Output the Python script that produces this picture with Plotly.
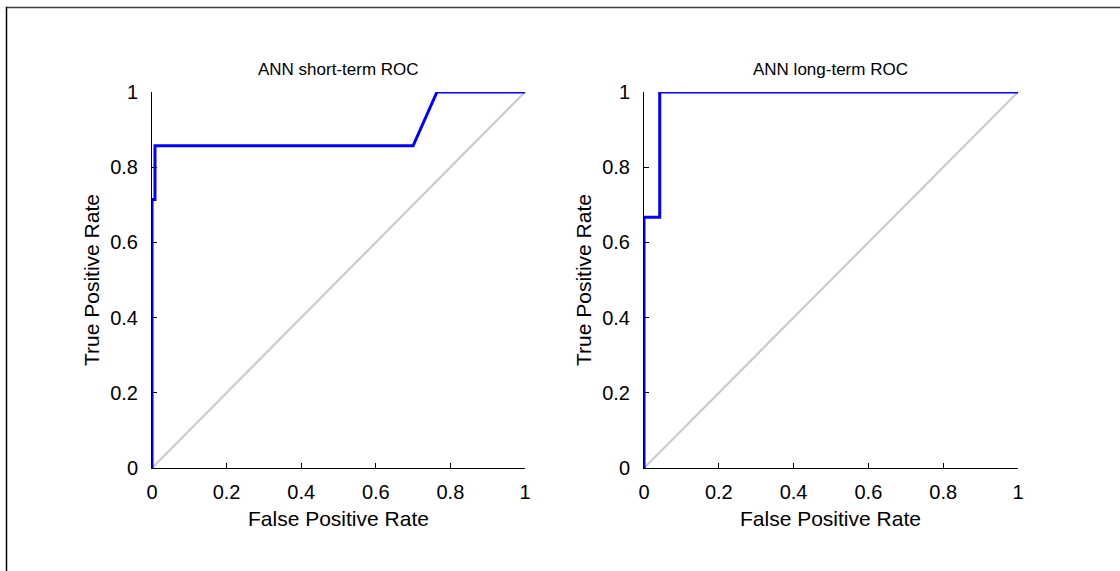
import plotly.graph_objects as go

# Data
short_fpr = [0, 0, 0.008, 0.008, 0.70, 0.764, 1.0]
short_tpr = [0, 0.714, 0.714, 0.857, 0.857, 1.0, 1.0]
long_fpr = [0, 0, 0.042, 0.042, 1.0]
long_tpr = [0, 0.667, 0.667, 1.0, 1.0]
diag = [0, 1]
tick_vals = [0, 0.2, 0.4, 0.6, 0.8, 1]
tick_text = ["0", "0.2", "0.4", "0.6", "0.8", "1"]
titles = ["ANN short-term ROC", "ANN long-term ROC"]
xlabel = "False Positive Rate"
ylabel = "True Positive Rate"

W, H = 1120, 571
FONT = "Liberation Sans, Arial, sans-serif"

fig = go.Figure()

fig.add_trace(go.Scatter(x=diag, y=diag, mode="lines", line=dict(color="#cccccc", width=2.2),
                         xaxis="x", yaxis="y", showlegend=False, hoverinfo="skip"))
fig.add_trace(go.Scatter(x=diag, y=diag, mode="lines", line=dict(color="#cccccc", width=2.2),
                         xaxis="x2", yaxis="y2", showlegend=False, hoverinfo="skip"))
fig.add_trace(go.Scatter(x=short_fpr, y=short_tpr, mode="lines", line=dict(color="#0000ff", width=3),
                         xaxis="x", yaxis="y", showlegend=False, cliponaxis=False))
fig.add_trace(go.Scatter(x=long_fpr, y=long_tpr, mode="lines", line=dict(color="#0000ff", width=3),
                         xaxis="x2", yaxis="y2", showlegend=False, cliponaxis=False))

ydom = [1 - 468 / H, 1 - 92 / H]
x1dom = [152 / W, 525 / W]
x2dom = [644 / W, 1018 / W]

axis_common = dict(range=[0, 1], tickvals=tick_vals, ticktext=tick_text, ticks="inside",
                   ticklen=5, tickcolor="black", tickwidth=1, showline=True, linecolor="black",
                   linewidth=1, showgrid=False, zeroline=False, mirror=False, automargin=False,
                   tickfont=dict(family=FONT, size=20, color="black"), layer="below traces",
                   fixedrange=True)

fig.update_layout(
    template="none",
    width=W, height=H,
    margin=dict(l=0, r=0, t=0, b=0, pad=0),
    paper_bgcolor="white", plot_bgcolor="white",
    xaxis=dict(domain=x1dom, anchor="y", ticklabelstandoff=6, **axis_common),
    yaxis=dict(domain=ydom, anchor="x", ticklabelstandoff=9, **axis_common),
    xaxis2=dict(domain=x2dom, anchor="y2", ticklabelstandoff=6, **axis_common),
    yaxis2=dict(domain=ydom, anchor="x2", ticklabelstandoff=9, **axis_common),
    showlegend=False,
)

ann = []
for dom, t in zip([x1dom, x2dom], titles):
    cx = (dom[0] + dom[1]) / 2
    ann.append(dict(text=t, x=cx, y=1 - 70 / H, xref="paper", yref="paper", showarrow=False,
                    xanchor="center", yanchor="middle", font=dict(family=FONT, size=17, color="black")))
    ann.append(dict(text=xlabel, x=cx, y=1 - 518 / H, xref="paper", yref="paper", showarrow=False,
                    xanchor="center", yanchor="middle", font=dict(family=FONT, size=21, color="black")))
for xpx in [92, 584]:
    ann.append(dict(text=ylabel, x=xpx / W, y=(ydom[0] + ydom[1]) / 2, xref="paper", yref="paper",
                    showarrow=False, textangle=-90, xanchor="center", yanchor="middle",
                    font=dict(family=FONT, size=21, color="black")))
fig.update_layout(annotations=ann)

# outer border (top and left edges)
fig.add_shape(type="line", xref="paper", yref="paper", x0=6 / W, x1=1, y0=1 - 7.5 / H, y1=1 - 7.5 / H,
              line=dict(color="#404040", width=1.5))
fig.add_shape(type="line", xref="paper", yref="paper", x0=6.5 / W, x1=6.5 / W, y0=0, y1=1 - 7 / H,
              line=dict(color="black", width=1.5))

fig.write_html("out.html", config={"displayModeBar": False},
               post_script="document.body.style.margin='0';")
